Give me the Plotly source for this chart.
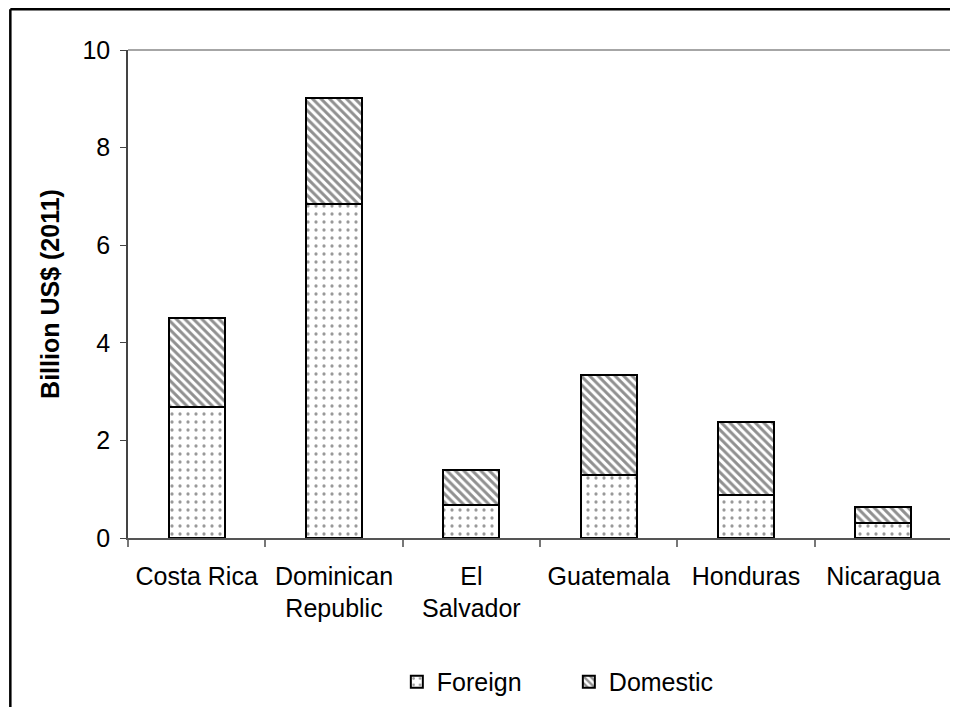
import plotly.graph_objects as go

categories = ["Costa Rica", "Dominican<br>Republic", "El<br>Salvador", "Guatemala", "Honduras", "Nicaragua"]
foreign = [2.69, 6.84, 0.68, 1.29, 0.89, 0.31]
domestic = [1.82, 2.18, 0.71, 2.06, 1.48, 0.33]
y_ticks = [0, 2, 4, 6, 8, 10]

FONT = "Liberation Sans, Arial, sans-serif"

fig = go.Figure()
fig.add_trace(go.Bar(
    x=categories, y=foreign, name="Foreign",
    marker=dict(color="white", line=dict(color="black", width=2),
                pattern=dict(shape=".", fgcolor="#333333", bgcolor="white", size=8, solidity=0.13)),
))
fig.add_trace(go.Bar(
    x=categories, y=domestic, name="Domestic",
    marker=dict(color="white", line=dict(color="black", width=2),
                pattern=dict(shape="\\", fgcolor="#222222", bgcolor="white", size=6, solidity=0.5)),
))

fig.update_layout(
    barmode="stack",
    bargap=0.59,
    width=950, height=699,
    margin=dict(l=120, r=6, t=42, b=169, autoexpand=False),
    paper_bgcolor="white", plot_bgcolor="white",
    font=dict(family=FONT, size=25, color="black"),
    showlegend=True,
    legend=dict(orientation="h", x=0.535, xanchor="center", y=-0.295, yanchor="middle",
                font=dict(size=25), traceorder="normal", itemwidth=30, entrywidth=127),
    xaxis=dict(showline=True, linecolor="#555555", linewidth=1.5, ticks="outside", tickson="boundaries",
               ticklen=7, tickcolor="#777777", tickwidth=1.5, showgrid=False, tickfont=dict(size=25),
               ticklabelstandoff=15, automargin=False),
    yaxis=dict(range=[0, 10], tickvals=y_ticks, showline=True, linecolor="#444444", linewidth=1.5,
               ticks="outside", ticklen=6, tickcolor="#444444", showgrid=False, zeroline=False,
               tickfont=dict(size=25), ticklabelstandoff=5, automargin=False,
               title=dict(text="<b>Billion US$ (2011)</b>", font=dict(size=25), standoff=16)),
    shapes=[
        # plot area top/right border
        dict(type="line", xref="paper", yref="paper", x0=0, x1=1, y0=1, y1=1,
             line=dict(color="#888888", width=1.5)),
        dict(type="line", xref="paper", yref="paper", x0=1, x1=1, y0=0, y1=1,
             line=dict(color="#888888", width=1.5)),
        # outer frame (left and top)
        dict(type="line", xref="paper", yref="paper", x0=-0.1428, x1=-0.1428, y0=-1, y1=1.0836,
             line=dict(color="black", width=2.5)),
        dict(type="line", xref="paper", yref="paper", x0=-0.1428, x1=2, y0=1.0836, y1=1.0836,
             line=dict(color="black", width=2.5)),
    ],
)

fig.write_html("out.html")
